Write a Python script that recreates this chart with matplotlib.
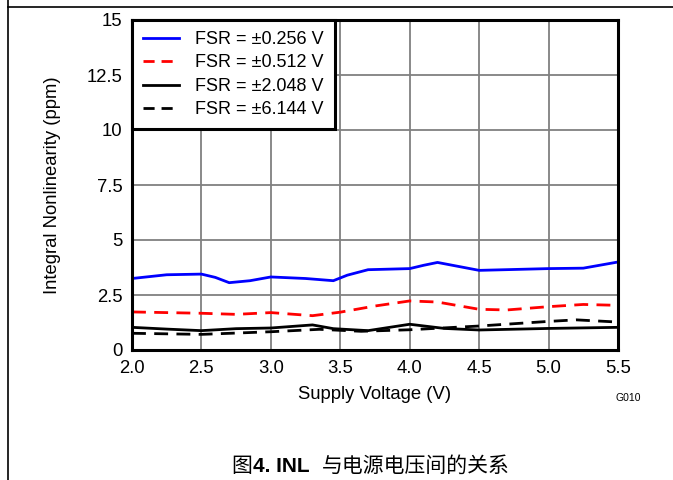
import matplotlib.pyplot as plt
from matplotlib.lines import Line2D

plt.rcParams['font.family'] = ['Liberation Sans', 'Noto Sans CJK SC', 'DejaVu Sans']

# INL versus supply voltage for each full-scale range
v_256 = [2.0, 2.25, 2.5, 2.6, 2.7, 2.85, 3.0, 3.25, 3.45, 3.55, 3.7, 4.0, 4.1, 4.2, 4.35, 4.5, 5.0, 5.25, 5.5]
inl_256 = [3.25, 3.42, 3.45, 3.3, 3.06, 3.15, 3.32, 3.25, 3.15, 3.4, 3.65, 3.70, 3.85, 3.98, 3.8, 3.62, 3.70, 3.72, 4.0]

v_512 = [2.0, 2.5, 2.75, 3.0, 3.3, 3.5, 3.75, 4.0, 4.2, 4.5, 4.7, 5.0, 5.25, 5.5]
inl_512 = [1.73, 1.67, 1.62, 1.70, 1.56, 1.72, 2.0, 2.23, 2.18, 1.85, 1.82, 1.97, 2.07, 2.03]

v_2048 = [2.0, 2.25, 2.5, 2.75, 3.0, 3.3, 3.45, 3.7, 4.0, 4.25, 4.5, 5.0, 5.5]
inl_2048 = [1.03, 0.95, 0.88, 0.97, 1.0, 1.14, 0.97, 0.88, 1.17, 0.98, 0.91, 0.98, 1.03]

v_6144 = [2.0, 2.5, 3.0, 3.35, 3.65, 4.0, 4.5, 5.0, 5.2, 5.5]
inl_6144 = [0.76, 0.71, 0.83, 0.94, 0.85, 0.92, 1.09, 1.30, 1.37, 1.27]

labels = ['FSR = ±0.256 V', 'FSR = ±0.512 V', 'FSR = ±2.048 V', 'FSR = ±6.144 V']

x_ticks = [2.0, 2.5, 3.0, 3.5, 4.0, 4.5, 5.0, 5.5]
y_ticks = [0, 2.5, 5, 7.5, 10, 12.5, 15]
y_tick_labels = ['0', '2.5', '5', '7.5', '10', '12.5', '15']

fig = plt.figure(figsize=(6.73, 4.8), dpi=100)
ax = fig.add_axes([132 / 673, 1 - 350 / 480, 486 / 673, 330 / 480])

lw = 2.0
ax.plot(v_256, inl_256, color='#0000ff', lw=lw, solid_joinstyle='round')
ax.plot(v_512, inl_512, color='#ff0000', lw=lw, ls=(0, (5, 3)))
ax.plot(v_2048, inl_2048, color='black', lw=lw, solid_joinstyle='round')
ax.plot(v_6144, inl_6144, color='black', lw=lw, ls=(0, (5, 3)))

ax.set_xlim(2.0, 5.5)
ax.set_ylim(0, 15)
ax.set_xticks(x_ticks)
ax.set_xticklabels([f'{t:.1f}' for t in x_ticks])
ax.set_yticks(y_ticks)
ax.set_yticklabels(y_tick_labels)
ax.tick_params(length=0, labelsize=13.3, pad=7)
ax.grid(True, color='#808080', lw=1.3)
ax.set_axisbelow(True)
for s in ax.spines.values():
    s.set_linewidth(2.2)

ax.set_xlabel('Supply Voltage (V)', fontsize=13.3, labelpad=7)
ax.set_ylabel('Integral Nonlinearity (ppm)', fontsize=13.3, labelpad=18)

handles = [
    Line2D([], [], color='#0000ff', lw=lw),
    Line2D([], [], color='#ff0000', lw=lw, ls=(0, (4, 2.5))),
    Line2D([], [], color='black', lw=lw),
    Line2D([], [], color='black', lw=lw, ls=(0, (4, 2.5))),
]
leg = ax.legend(handles, labels, loc='upper left', bbox_to_anchor=(0, 1),
                fontsize=13, frameon=True, fancybox=False, framealpha=1,
                borderaxespad=0, handlelength=2.0, labelspacing=0.36,
                borderpad=0.6, handletextpad=0.9)
leg.get_frame().set_edgecolor('black')
leg.get_frame().set_linewidth(2.2)

fig.text(628 / 673, 1 - 398 / 480, 'G010', fontsize=7.5, ha='center', va='center')

# page frame lines
fig.add_artist(Line2D([8 / 673, 8 / 673], [0, 1], color='black', lw=1.2))
fig.add_artist(Line2D([8 / 673, 1], [1 - 7 / 480, 1 - 7 / 480], color='black', lw=1.2))

# caption
cy = 1 - 466 / 480
fig.text(231 / 673, cy, '图', fontsize=15, ha='left', va='center')
fig.text(253 / 673, cy, '4. INL', fontsize=15, fontweight='bold', ha='left', va='center')
fig.text(322 / 673, cy, '与电源电压间的关系', fontsize=15, ha='left', va='center')

fig.savefig('out.png', dpi=100)
